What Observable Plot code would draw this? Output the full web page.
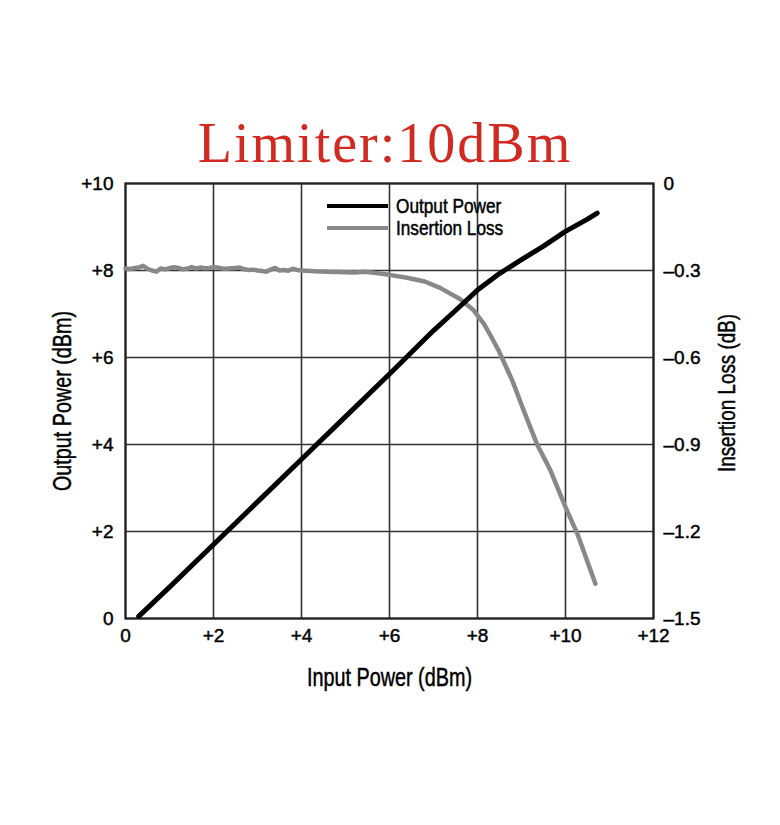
<!DOCTYPE html>
<html>
<head>
<meta charset="utf-8">
<script src="https://cdn.jsdelivr.net/npm/d3@7"></script>
<script src="https://cdn.jsdelivr.net/npm/@observablehq/plot@0.6"></script>
<style>
  html, body { margin: 0; padding: 0; background: #fff; }
  #wrap { position: relative; width: 780px; height: 825px; overflow: hidden; }
  #title {
    position: absolute; left: 0; width: 780px; top: 115px; text-align: center;
    font-family: "Liberation Serif", "DejaVu Serif", serif; font-size: 56px; line-height: 56px;
    letter-spacing: 2px; color: #d02a22; text-indent: -10px;
  }
  #chart { position: absolute; left: 0; top: 160px; }
  .leg { position: absolute; font-family: "Liberation Sans", Arial, sans-serif; font-size: 21px; color: #000; }
  .leg .sw { position: absolute; left: 0; width: 61px; height: 4px; }
  .leg .lb { position: absolute; left: 69px; white-space: nowrap; line-height: 21px; transform: scaleX(0.82); transform-origin: 0 0; -webkit-text-stroke: 0.5px #000; }
  #chart svg text { stroke: #000; stroke-width: 0.45px; }
</style>
</head>
<body>
<div id="wrap">
  <div id="title">Limiter:10dBm</div>
  <div id="chart"></div>
  <div class="leg" style="left:327px; top:204px;"><div class="sw" style="background:#000"></div><div class="lb" style="top:-9px">Output Power</div></div>
  <div class="leg" style="left:327px; top:226px;"><div class="sw" style="background:#888"></div><div class="lb" style="top:-9px">Insertion Loss</div></div>
</div>
<script>
// Output power (dBm) vs input power (dBm)
const opInput  = [0.3, 1, 2, 3, 4, 5, 6, 7, 7.5, 8, 8.5, 9, 9.5, 10, 10.5, 10.72];
const opOutput = [0.05, 0.72, 1.7, 2.68, 3.66, 4.64, 5.62, 6.62, 7.08, 7.55, 7.93, 8.25, 8.56, 8.9, 9.18, 9.32];

// Insertion loss (dB) vs input power (dBm)
const ilInput = [0.0,0.1,0.2,0.3,0.4,0.5,0.6,0.7,0.8,0.9,1.0,1.1,1.2,1.3,1.4,1.5,1.6,1.7,1.8,1.9,
  2.0,2.1,2.2,2.3,2.4,2.5,2.6,2.7,2.8,2.9,3.0,3.1,3.2,3.3,3.4,3.5,3.6,3.7,3.8,3.9,
  4.0,4.3,4.6,5.0,5.2,5.45,5.7,6.0,6.4,6.8,7.15,7.6,7.9,8.15,8.3,8.48,8.79,9.05,9.35,9.66,10.0,10.27,10.68];
const ilLoss = [-0.293,-0.295,-0.292,-0.290,-0.284,-0.294,-0.300,-0.304,-0.293,-0.296,-0.292,-0.289,-0.291,-0.296,-0.294,-0.288,-0.293,-0.290,-0.292,-0.291,
  -0.289,-0.290,-0.293,-0.294,-0.292,-0.291,-0.290,-0.296,-0.298,-0.297,-0.300,-0.302,-0.304,-0.297,-0.291,-0.300,-0.298,-0.301,-0.294,-0.298,
  -0.300,-0.303,-0.304,-0.306,-0.307,-0.304,-0.309,-0.315,-0.325,-0.338,-0.360,-0.398,-0.435,-0.485,-0.525,-0.576,-0.679,-0.783,-0.898,-0.990,-1.116,-1.208,-1.380];

// Axes
const xTicks = [0, 2, 4, 6, 8, 10, 12];
const xTickLabels = ["0", "+2", "+4", "+6", "+8", "+10", "+12"];
const yTicks = [0, 2, 4, 6, 8, 10];
const yTickLabels = ["0", "+2", "+4", "+6", "+8", "+10"];
const ilTicks = [-1.5, -1.2, -0.9, -0.6, -0.3, 0];
const ilTickLabels = ["–1.5", "–1.2", "–0.9", "–0.6", "–0.3", "0"];
const ilMin = -1.5, ilMax = 0;

const xLabel = "Input Power (dBm)";
const yLabel = "Output Power (dBm)";
const y2Label = "Insertion Loss (dB)";

const opData = opInput.map((x, i) => ({x, y: opOutput[i]}));
const ilData = ilInput.map((x, i) => ({x, il: ilLoss[i]}));
const ilToY = v => (v - ilMin) / (ilMax - ilMin) * 10;

const font = "'Liberation Sans', Arial, sans-serif";

const chart = Plot.plot({
  width: 780,
  height: 665,
  marginTop: 23,
  marginLeft: 125,
  marginRight: 127,
  marginBottom: 207,
  style: {fontFamily: font, fontSize: "19px", color: "#000", background: "transparent"},
  x: {domain: [0, 12]},
  y: {domain: [0, 10]},
  marks: [
    Plot.gridX(xTicks, {stroke: "#333", strokeOpacity: 1, strokeWidth: 1.6}),
    Plot.gridY(yTicks, {stroke: "#333", strokeOpacity: 1, strokeWidth: 1.6}),
    Plot.frame({stroke: "#222", strokeWidth: 2.2}),
    Plot.line(ilData, {x: "x", y: d => ilToY(d.il), stroke: "#888", strokeWidth: 4.5, curve: "linear"}),
    Plot.line(opData, {x: "x", y: "y", stroke: "#000", strokeWidth: 5, curve: "linear"}),
    Plot.axisX(xTicks, {anchor: "bottom", tickSize: 0, tickPadding: 10, fontSize: 19,
      tickFormat: d => xTickLabels[xTicks.indexOf(d)], label: null}),
    Plot.axisY(yTicks, {anchor: "left", tickSize: 0, tickPadding: 12, fontSize: 19,
      tickFormat: d => yTickLabels[yTicks.indexOf(d)], label: null}),
    Plot.axisY(ilTicks.map(ilToY), {anchor: "right", tickSize: 0, tickPadding: 10, fontSize: 19,
      tickFormat: (d, i) => ilTickLabels[i], label: null}),
    Plot.text([xLabel], {frameAnchor: "bottom", dy: 59, fontSize: 25, fill: "#000", textAnchor: "middle", lineAnchor: "middle"}),
    Plot.text([yLabel], {frameAnchor: "left", dx: -63, rotate: -90, fontSize: 25, fill: "#000", textAnchor: "middle", lineAnchor: "middle"}),
    Plot.text([y2Label], {frameAnchor: "right", dx: 74, dy: -8, rotate: -90, fontSize: 24, fill: "#000", textAnchor: "middle", lineAnchor: "middle"})
  ]
});
// condense the axis titles to match the narrow typeface of the original
const condense = {[xLabel]: 165, [yLabel]: 180, [y2Label]: 158};
d3.select(chart).selectAll("text").each(function() {
  const t = this.textContent;
  if (condense[t]) {
    d3.select(this).attr("textLength", condense[t]).attr("lengthAdjust", "spacingAndGlyphs");
  }
});
document.getElementById("chart").appendChild(chart);
</script>
</body>
</html>
